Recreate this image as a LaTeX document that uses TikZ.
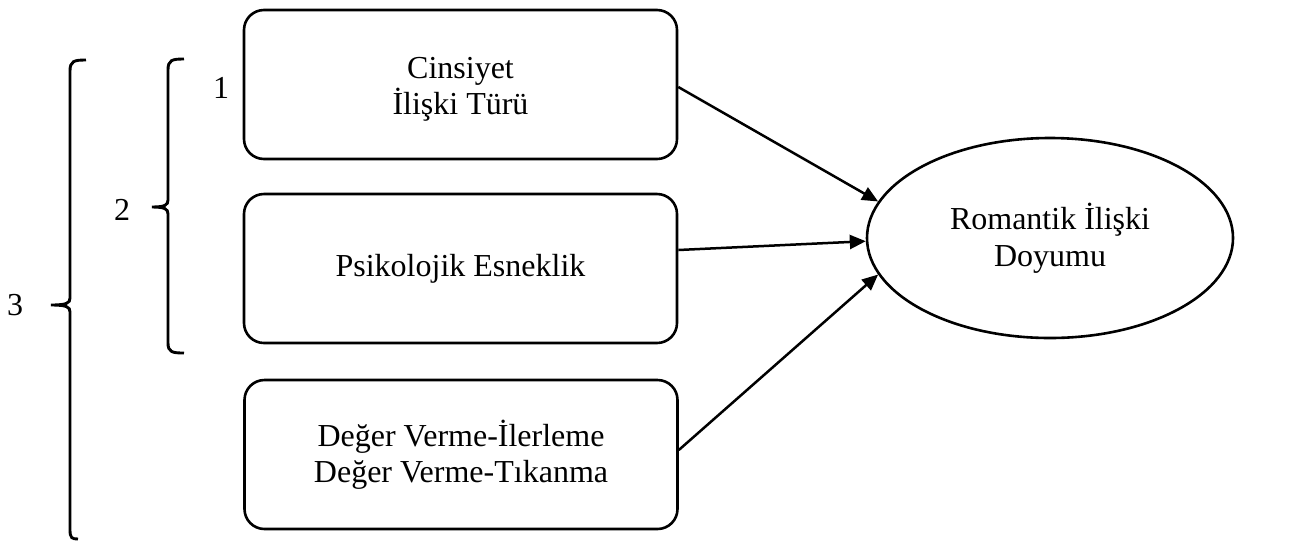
\documentclass[tikz,border=0pt]{standalone}
\usepackage{fontspec}
\setmainfont{Liberation Serif}
\usetikzlibrary{shapes.geometric,arrows.meta}
\begin{document}
\begin{tikzpicture}[x=1pt,y=-1pt,
  lbl/.style={font=\fontsize{32}{36.5}\selectfont,inner sep=0pt},
  varbox/.style={draw,line width=2.6pt,rounded corners=20pt,minimum width=433pt,minimum height=149pt,align=center,inner sep=0pt,font=\fontsize{32}{36.5}\selectfont},
  outcome/.style={draw,ellipse,line width=2.6pt,minimum width=366pt,minimum height=200pt,align=center,inner sep=0pt,font=\fontsize{32}{36.5}\selectfont},
  conn/.style={line width=2.5pt,-{Triangle[length=16pt,width=14pt]}},
  brk/.style={line width=2.9pt}]
\useasboundingbox (0,0) rectangle (1297,550);
\node[varbox,label={[lbl,align=center,yshift=-5pt]center:Cinsiyet\\İlişki Türü}] (b1) at (460.5,84.5) {};
\node[varbox] (b2) at (460.5,268.5) {\raisebox{-3pt}{Psikolojik Esneklik}};
\node[varbox] (b3) at (461,454.5) {Değer Verme-İlerleme\\Değer Verme-Tıkanma};
\node[outcome] (o) at (1050,238) {Romantik İlişki\\Doyumu};
\draw[conn] ([yshift=-2.5pt]b1.east) -- (o.168.6);
\draw[conn] ([yshift=18.5pt]b2.east) -- (o.181.6);
\draw[conn] ([yshift=4.5pt]b3.east) -- (o.192.9);
\node[lbl] (n1) at (221,88) {1};
\node[lbl] (n2) at (122,210) {2};
\node[lbl] (n3) at (15,305) {3};
% bracket 2
\coordinate (t2) at (152,207);
\draw[brk] (184,59) .. controls (172,59) and (168,60) .. (168,70) -- (168,200)
  .. controls (168,205) and (165,207) .. (t2) .. controls (165,207) and (168,209) .. (168,214)
  -- (168,343) .. controls (168,352) and (172,353) .. (184,353);
% bracket 3
\coordinate (t3) at (51,305);
\draw[brk] (86,60) .. controls (74,60) and (70,61) .. (70,71) -- (70,298)
  .. controls (70,303) and (67,305) .. (t3) .. controls (67,305) and (70,307) .. (70,312)
  -- (70,530) .. controls (70,538) and (72,539) .. (78,539);
\end{tikzpicture}
\end{document}
